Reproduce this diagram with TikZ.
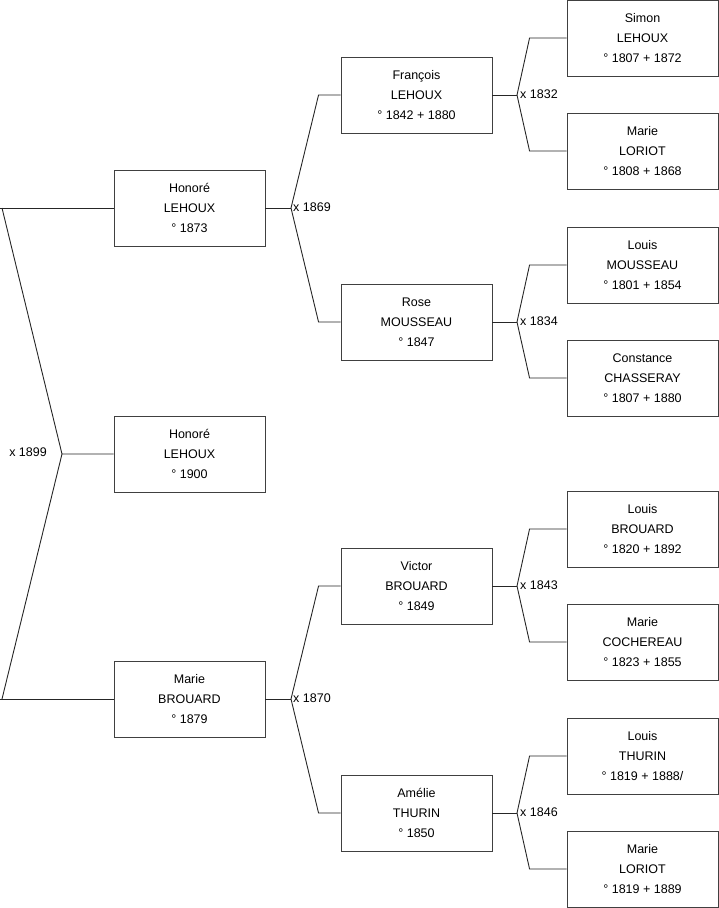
\documentclass[tikz,border=0pt]{standalone}
\usepackage{fontspec}
\setmainfont{Liberation Sans}
\begin{document}
\begin{tikzpicture}[x=1pt,y=-1pt,
  person/.style={draw=black!75, line width=0.9pt, rectangle, minimum width=151pt, minimum height=76pt,
    align=center, inner sep=0pt, font=\fontsize{12.5}{20}\selectfont},
  link/.style={draw=black!85, line width=0.9pt},
  mlabel/.style={font=\fontsize{12.5}{15}\selectfont, inner sep=0pt}]
\useasboundingbox (0,0) rectangle (719,908);
% column 1
\node[person] (p0) at (189.5,454) {Honoré\\LEHOUX\\° 1900};
\node[person] (p1) at (189.5,208) {Honoré\\LEHOUX\\° 1873};
\node[person] (p2) at (189.5,699) {Marie\\BROUARD\\° 1879};
% column 2
\node[person] (p3) at (416.5,95) {François\\LEHOUX\\° 1842 + 1880};
\node[person] (p4) at (416.5,322) {Rose\\MOUSSEAU\\° 1847};
\node[person] (p5) at (416.5,586) {Victor\\BROUARD\\° 1849};
\node[person] (p6) at (416.5,813) {Amélie\\THURIN\\° 1850};
% column 3
\node[person] (p7) at (642.5,38) {Simon\\LEHOUX\\° 1807 + 1872};
\node[person] (p8) at (642.5,151) {Marie\\LORIOT\\° 1808 + 1868};
\node[person] (p9) at (642.5,265) {Louis\\MOUSSEAU\\° 1801 + 1854};
\node[person] (p10) at (642.5,378) {Constance\\CHASSERAY\\° 1807 + 1880};
\node[person] (p11) at (642.5,529) {Louis\\BROUARD\\° 1820 + 1892};
\node[person] (p12) at (642.5,642) {Marie\\COCHEREAU\\° 1823 + 1855};
\node[person] (p13) at (642.5,756) {Louis\\THURIN\\° 1819 + 1888/};
\node[person] (p14) at (642.5,869) {Marie\\LORIOT\\° 1819 + 1889};
% junctions
\coordinate (j0) at (62,454);
\coordinate (j1) at (291,208);
\coordinate (j2) at (291,699);
\coordinate (j3) at (517,95);
\coordinate (j4) at (517,322);
\coordinate (j5) at (517,586);
\coordinate (j6) at (517,813);
% bends
\coordinate (b1) at (2,208);
\coordinate (b2) at (2,699);
\coordinate (e1) at (0,208);
\coordinate (e2) at (0,699);
% connectors col 0
\draw[link] (p0.west) -- (j0) -- (b1);
\draw[link] (j0) -- (b2);
\draw[link] (e1) -- (p1.west);
\draw[link] (e2) -- (p2.west);
\node[mlabel, anchor=east] (m0) at (47,452) {x 1899};
% col 1 -> col 2, col 2 -> col 3
\foreach \c/\j/\a/\b/\d in {p1/j1/p3/p4/22, p2/j2/p5/p6/22, p3/j3/p7/p8/37, p4/j4/p9/p10/37, p5/j5/p11/p12/37, p6/j6/p13/p14/37}{
  \draw[link] (\c.east) -- (\j);
  \draw[link] (\j) -- ([xshift=-\d pt]\a.west) -- (\a.west);
  \draw[link] (\j) -- ([xshift=-\d pt]\b.west) -- (\b.west);
}
\node[mlabel, anchor=west] (m1) at (293,207) {x 1869};
\node[mlabel, anchor=west] (m2) at (293,698) {x 1870};
\node[mlabel, anchor=west] (m3) at (520,94) {x 1832};
\node[mlabel, anchor=west] (m4) at (520,321) {x 1834};
\node[mlabel, anchor=west] (m5) at (520,585) {x 1843};
\node[mlabel, anchor=west] (m6) at (520,812) {x 1846};
\end{tikzpicture}
\end{document}
